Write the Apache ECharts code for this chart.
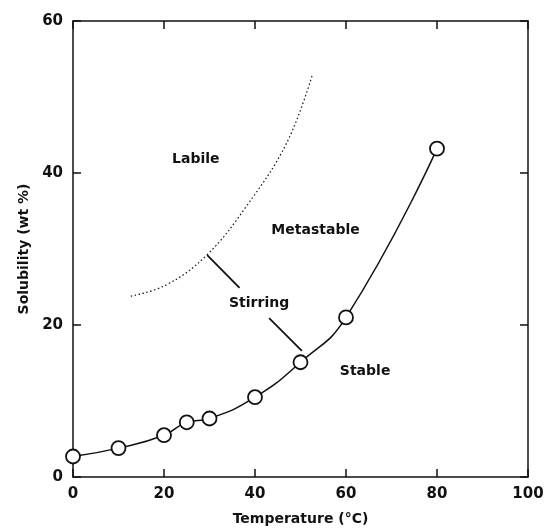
<!DOCTYPE html>
<html>
<head>
<meta charset="utf-8">
<script src="https://cdn.jsdelivr.net/npm/echarts@6/dist/echarts.min.js"></script>
<style>
  html, body { margin: 0; padding: 0; background: #fff; }
  #chart { width: 549px; height: 531px; }
</style>
</head>
<body>
<div id="chart"></div>
<script>
// measured solubility points (temperature in °C, solubility in wt %)
var temps = [0, 10, 20, 25, 30, 40, 50, 60, 80]
var solubility = [2.7, 3.8, 5.5, 7.2, 7.7, 10.5, 15.1, 21.0, 43.2]

// metastable limit (dotted curve)
var limitX = [12.7, 20.6, 29.4, 38.2, 47.0, 52.6]
var limitY = [23.8, 25.3, 29.2, 35.7, 44.0, 52.9]

// region labels
var regionNames = ['Labile', 'Metastable', 'Stirring', 'Stable']
var regionX = [27.0, 53.3, 40.9, 64.2]
var regionY = [41.8, 32.5, 22.9, 13.9]

// "Stirring" pointers: plain line to dotted curve, arrow to solid curve
var pointerLine = [[29.5, 29.2], [36.6, 24.9]]
var pointerArrow = [[43.1, 20.9], [50.3, 16.6]]

var xTicks = [0, 20, 40, 60, 80, 100]
var yTicks = [0, 20, 40, 60]

function zip(a, b) {
  return a.map(function (v, i) { return [v, b[i]] })
}

var chart = echarts.init(document.getElementById('chart'))
var font = 'DejaVu Sans'
var ink = '#111'

var baseAxisLine = { show: true, onZero: false, lineStyle: { color: ink, width: 1.5 } }
var baseTick = { show: true, inside: true, length: 8, lineStyle: { color: ink, width: 1.5 } }

var option = {
  backgroundColor: '#fff',
  animation: false,
  grid: {
    left: 73,
    right: 21,
    top: 21,
    bottom: 51
  },
  xAxis: [
    {
      type: 'value',
      min: xTicks[0],
      max: xTicks[xTicks.length - 1],
      interval: 20,
      name: 'Temperature (°C)',
      nameLocation: 'middle',
      nameGap: 35,
      nameTextStyle: { color: ink, fontSize: 14, fontWeight: 'bold', fontFamily: font },
      axisLine: baseAxisLine,
      axisTick: baseTick,
      axisLabel: { color: ink, fontSize: 15, fontWeight: 'bold', fontFamily: font, margin: 10 },
      splitLine: { show: false }
    },
    {
      type: 'value',
      position: 'top',
      min: xTicks[0],
      max: xTicks[xTicks.length - 1],
      interval: 20,
      axisLine: baseAxisLine,
      axisTick: baseTick,
      axisLabel: { show: false },
      splitLine: { show: false }
    }
  ],
  yAxis: [
    {
      type: 'value',
      min: yTicks[0],
      max: yTicks[yTicks.length - 1],
      interval: 20,
      name: 'Solubility (wt %)',
      nameLocation: 'middle',
      nameGap: 41,
      nameTextStyle: { color: ink, fontSize: 14, fontWeight: 'bold', fontFamily: font },
      axisLine: baseAxisLine,
      axisTick: baseTick,
      axisLabel: { color: ink, fontSize: 15, fontWeight: 'bold', fontFamily: font, margin: 10 },
      splitLine: { show: false }
    },
    {
      type: 'value',
      position: 'right',
      min: yTicks[0],
      max: yTicks[yTicks.length - 1],
      interval: 20,
      axisLine: baseAxisLine,
      axisTick: baseTick,
      axisLabel: { show: false },
      splitLine: { show: false }
    }
  ],
  series: [
    {
      name: 'limit',
      type: 'line',
      smooth: 0.4,
      showSymbol: false,
      symbol: 'none',
      data: zip(limitX, limitY),
      lineStyle: { color: ink, width: 1.2, type: [1.5, 2.5] }
    },
    {
      name: 'solubility',
      type: 'line',
      smooth: 0.5,
      data: zip(temps, solubility),
      symbol: 'circle',
      symbolSize: 14,
      itemStyle: { color: '#fff', borderColor: ink, borderWidth: 1.8 },
      lineStyle: { color: ink, width: 1.5 },
      z: 3
    },
    {
      name: 'pointer',
      type: 'line',
      data: pointerLine,
      symbol: 'none',
      lineStyle: { color: ink, width: 1.8 },
      markLine: {
        silent: true,
        symbol: ['none', 'arrow'],
        symbolSize: [0, 10],
        label: { show: false },
        lineStyle: { color: ink, width: 1.8, type: 'solid' },
        data: [[{ coord: pointerArrow[0] }, { coord: pointerArrow[1] }]]
      }
    },
    {
      name: 'labels',
      type: 'scatter',
      symbolSize: 0,
      itemStyle: { opacity: 1 },
      data: regionNames.map(function (n, i) { return { name: n, value: [regionX[i], regionY[i]] } }),
      label: {
        show: true,
        position: 'inside',
        formatter: '{b}',
        color: ink,
        opacity: 1,
        fontSize: 14,
        fontWeight: 'bold',
        fontFamily: font
      }
    }
  ]
}

chart.setOption(option)
</script>
</body>
</html>
